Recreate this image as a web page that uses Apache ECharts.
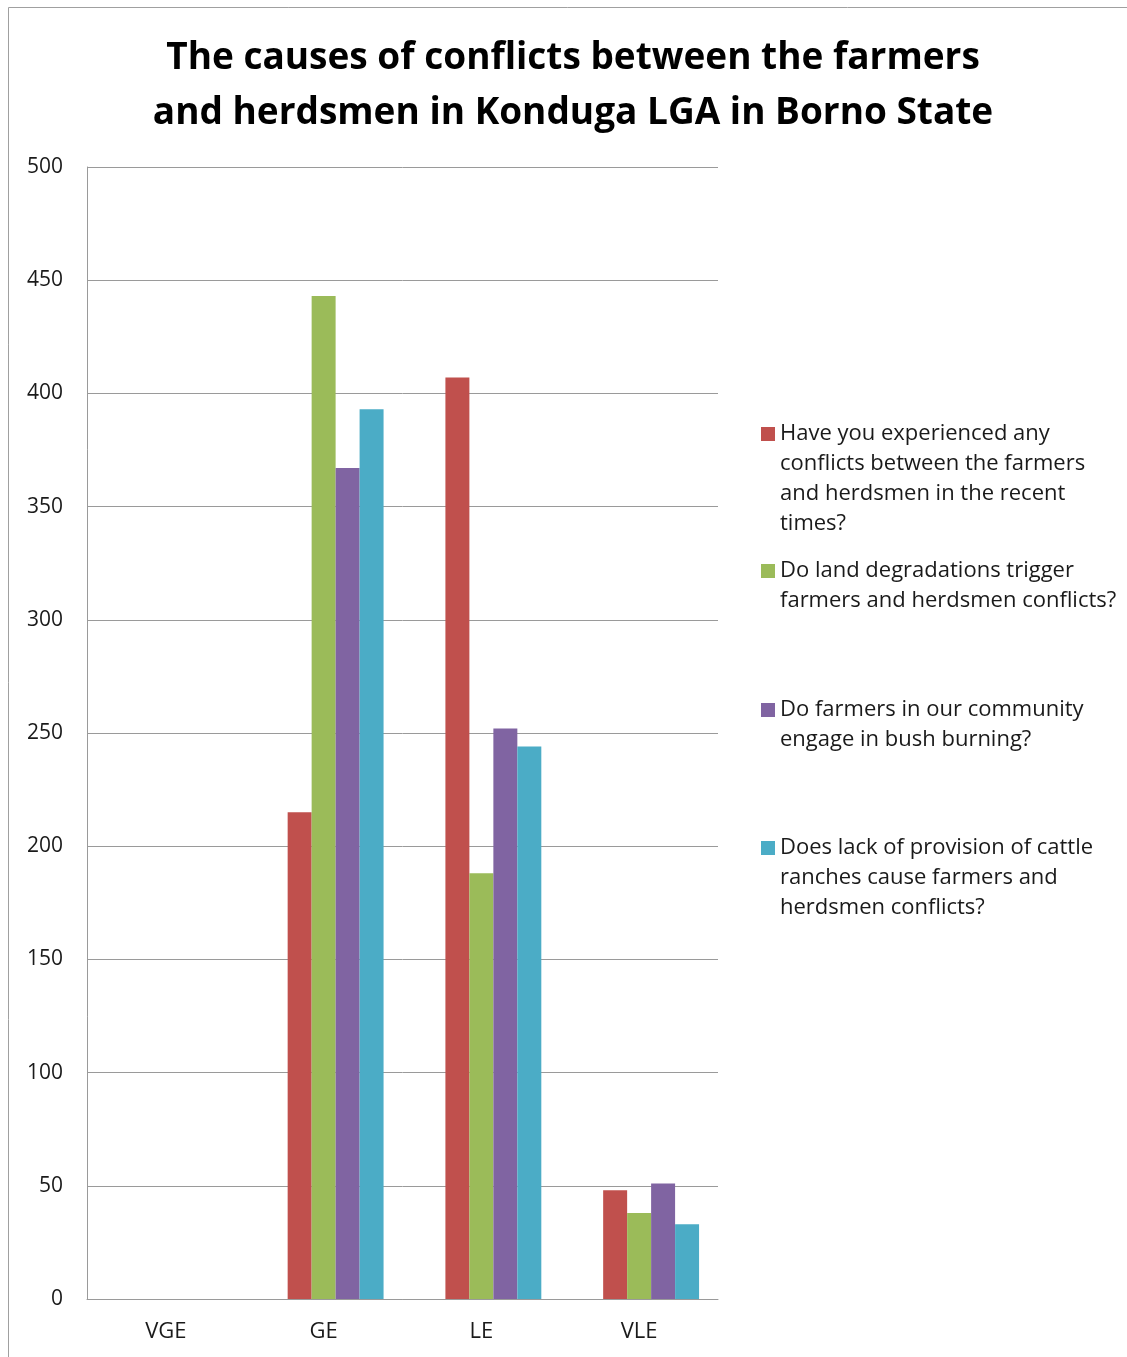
<!DOCTYPE html>
<html>
<head>
<meta charset="utf-8">
<script src="https://cdn.jsdelivr.net/npm/echarts@6/dist/echarts.min.js"></script>
<style>
  html, body { margin: 0; padding: 0; background: #fff; }
  #chart { width: 1127px; height: 1357px; }
</style>
</head>
<body>
<div id="chart"></div>
<script>
// ---- data ----
const titleText = 'The causes of conflicts between the farmers\nand herdsmen in Konduga LGA in Borno State';
const categories = ['VGE', 'GE', 'LE', 'VLE'];
const seriesNames = [
  'Have you experienced any conflicts between the farmers and herdsmen in the recent times?',
  'Do land degradations trigger farmers and herdsmen conflicts?',
  'Do farmers in our community engage in bush burning?',
  'Does lack of provision of cattle ranches cause farmers and herdsmen conflicts?'
];
const legendLines = [
  ['Have you experienced any', 'conflicts between the farmers', 'and herdsmen in the recent', 'times?'],
  ['Do land degradations trigger', 'farmers and herdsmen conflicts?'],
  ['Do farmers in our community', 'engage in bush burning?'],
  ['Does lack of provision of cattle', 'ranches cause farmers and', 'herdsmen conflicts?']
];
const experiencedConflicts = [0, 215, 407, 48];
const landDegradation = [0, 443, 188, 38];
const bushBurning = [0, 367, 252, 51];
const lackOfRanches = [0, 393, 244, 33];
const emptySeries = [null, null, null, null]; // empty leading series in the original chart
const yTicks = { min: 0, max: 500, interval: 50 };

// ---- styles ----
const colors = ['#C0504D', '#9BBB59', '#8064A2', '#4BACC6'];
const font = 'Open Sans';
const legendFirstLineCenters = [434, 571, 710, 848];
const LINE_H = 30;
const ICON = 14;

const valuesList = [experiencedConflicts, landDegradation, bushBurning, lackOfRanches];

const series = [{
  name: '__empty',
  type: 'bar',
  data: emptySeries,
  barGap: '0%',
  barCategoryGap: '24%',
  silent: true
}];
valuesList.forEach((vals, i) => {
  series.push({
    name: seriesNames[i],
    type: 'bar',
    data: vals,
    barGap: '0%',
    barCategoryGap: '24%',
    itemStyle: { color: colors[i] }
  });
});

const legends = seriesNames.map((name, i) => {
  const n = legendLines[i].length;
  const h = n * LINE_H;
  const sqTop = LINE_H / 2 - ICON / 2;
  // square aligned with the first text line; zero-length subpaths extend the box to the full text height
  const iconPath = 'path://M0 ' + sqTop + ' L' + ICON + ' ' + sqTop + ' L' + ICON + ' ' + (sqTop + ICON) +
    ' L0 ' + (sqTop + ICON) + ' Z M0 0 L0 0 M' + ICON + ' ' + h + ' L' + ICON + ' ' + h;
  return {
    data: [{ name: name, icon: iconPath }],
    left: 761,
    top: legendFirstLineCenters[i] - LINE_H / 2,
    padding: 0,
    orient: 'vertical',
    itemWidth: ICON,
    itemHeight: h,
    selectedMode: false,
    formatter: () => legendLines[i].join('\n'),
    textStyle: {
      fontFamily: font,
      fontSize: 22,
      lineHeight: LINE_H,
      color: '#1a1a1a'
    }
  };
});

const chart = echarts.init(document.getElementById('chart'), null, { renderer: 'canvas' });
chart.setOption({
  animation: false,
  backgroundColor: '#ffffff',
  color: ['#ffffff'].concat(colors),
  title: {
    text: titleText,
    left: 573,
    textAlign: 'center',
    top: 31,
    padding: 0,
    textStyle: {
      fontFamily: font,
      fontWeight: 'bold',
      fontSize: 37,
      lineHeight: 55,
      color: '#000'
    }
  },
  legend: legends,
  grid: { left: 87, right: 409, top: 167, bottom: 58, containLabel: false },
  xAxis: {
    type: 'category',
    data: categories,
    axisLine: { lineStyle: { color: '#9a9a9a', width: 1 } },
    axisTick: { show: false },
    axisLabel: { margin: 22, fontFamily: font, fontSize: 22, color: '#1a1a1a' }
  },
  yAxis: {
    type: 'value',
    min: yTicks.min,
    max: yTicks.max,
    interval: yTicks.interval,
    axisLine: { show: true, lineStyle: { color: '#9a9a9a', width: 1 } },
    axisTick: { show: false },
    axisLabel: { margin: 24, fontFamily: font, fontSize: 21, color: '#1a1a1a', padding: [4, 0, 0, 0] },
    splitLine: { show: true, lineStyle: { color: '#9a9a9a', width: 1 } }
  },
  graphic: [{
    type: 'polyline',
    shape: { points: [[8.5, 1357], [8.5, 7.5], [1127, 7.5]] },
    style: { stroke: '#a0a0a0', lineWidth: 1, fill: null },
    silent: true
  }],
  series: series
});
</script>
</body>
</html>
